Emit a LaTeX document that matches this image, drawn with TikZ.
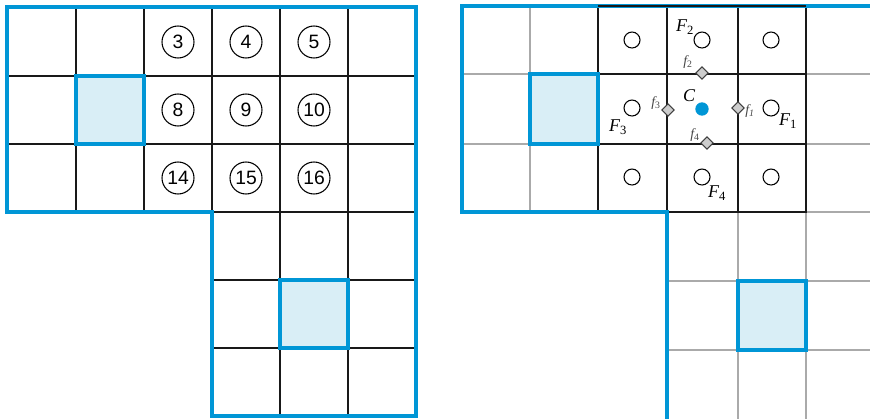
\documentclass[tikz,border=0pt]{standalone}
\usepackage{fontspec}
\setmainfont{Liberation Serif}
\newfontfamily\numfont{Liberation Sans}
\usetikzlibrary{shapes.geometric}
\definecolor{cblue}{RGB}{0,150,214}
\definecolor{lblue}{RGB}{217,238,246}
\definecolor{lgray}{RGB}{170,170,170}
\definecolor{dfill}{RGB}{205,205,205}
\definecolor{dtext}{RGB}{70,70,70}
\begin{document}
\begin{tikzpicture}[x=0.75pt,y=-0.75pt,
  blackgrid/.style={black!90,line width=1.3pt},
  graygrid/.style={lgray,line width=1.2pt},
  outline/.style={cblue,line width=2.3pt,line join=miter},
  hl/.style={fill=lblue,draw=cblue,line width=2.3pt},
  numc/.style={circle,draw,line width=0.8pt,minimum size=24pt,inner sep=0pt,font=\numfont\fontsize{14.5}{14.5}\selectfont},
  smallc/.style={circle,draw,line width=0.8pt,minimum size=12pt,inner sep=0pt,fill=white},
  cdot/.style={circle,fill=cblue,minimum size=10pt,inner sep=0pt},
  facept/.style={diamond,draw=black!75,fill=dfill,line width=0.7pt,minimum size=9.5pt,inner sep=0pt},
  Flab/.style={font=\fontsize{13.5}{13.5}\selectfont\itshape,inner sep=0pt},
  flab/.style={font=\fontsize{10.5}{10.5}\selectfont\itshape,text=dtext,inner sep=0pt}]
\useasboundingbox (0,0) rectangle (870,419);

% ---------------- left panel ----------------
\fill[lblue] (76,76) rectangle (144,144);
\fill[lblue] (280,280) rectangle (348,348);
\draw[blackgrid] (76,7) -- (76,212) (144,7) -- (144,212) (212,7) -- (212,212)
  (280,7) -- (280,416) (348,7) -- (348,416);
\draw[blackgrid] (7,76) -- (416,76) (7,144) -- (416,144) (212,212) -- (416,212)
  (212,280) -- (416,280) (212,348) -- (416,348);
\draw[outline] (7,7) -- (416,7) -- (416,416) -- (212,416) -- (212,212) -- (7,212) -- cycle;
\draw[hl] (76,76) rectangle (144,144);
\draw[hl] (280,280) rectangle (348,348);

\node[numc] (n3) at (178,42) {3};
\node[numc] (n4) at (246,42) {4};
\node[numc] (n5) at (314,42) {5};
\node[numc] (n8) at (178,110) {8};
\node[numc] (n9) at (246,110) {9};
\node[numc] (n10) at (314,110) {10};
\node[numc] (n14) at (178,178) {14};
\node[numc] (n15) at (246,178) {15};
\node[numc] (n16) at (314,178) {16};

% ---------------- right panel ----------------
\fill[lblue] (530,74) rectangle (598,144);
\fill[lblue] (738,281) rectangle (806,350);
\draw[graygrid] (530,6) -- (530,212) (738,212) -- (738,419) (806,6) -- (806,419)
  (462,74) -- (870,74) (462,144) -- (870,144) (667,212) -- (870,212)
  (667,281) -- (870,281) (667,350) -- (870,350);
\draw[blackgrid] (598,6) rectangle (806,212);
\draw[blackgrid] (667,6) -- (667,212) (738,6) -- (738,212) (598,74) -- (806,74) (598,144) -- (806,144);
\draw[outline] (870,6) -- (462,6) -- (462,212) -- (667,212) -- (667,419);
\draw[blackgrid] (598,6) -- (806,6);
\draw[hl] (530,74) rectangle (598,144);
\draw[hl] (738,281) rectangle (806,350);

\node[smallc] (c1) at (632,40) {};
\node[smallc] (c2) at (702,40) {};
\node[smallc] (c3) at (771,40) {};
\node[smallc] (c4) at (632,108) {};
\node[smallc] (c6) at (771,108) {};
\node[smallc] (c7) at (632,177) {};
\node[smallc] (c8) at (702,177) {};
\node[smallc] (c9) at (771,177) {};
\node[cdot] (cc) at (702,109) {};

\node[facept] (d1) at (738,108) {};
\node[facept] (d2) at (702,73) {};
\node[facept] (d3) at (668,110) {};
\node[facept] (d4) at (707,143) {};

\node[Flab] (F1) at (788,121) {F\textsubscript{\upshape 1}};
\node[Flab] (F2) at (685,27) {F\textsubscript{\upshape 2}};
\node[Flab] (F3) at (618,127) {F\textsubscript{\upshape 3}};
\node[Flab] (F4) at (717,193) {F\textsubscript{\upshape 4}};
\node[Flab] (C) at (689,96) {C};
\node[flab] (f1) at (750,111) {f\textsubscript{1}};
\node[flab] (f2) at (688,62) {f\textsubscript{\upshape 2}};
\node[flab] (f3) at (656,103) {f\textsubscript{\upshape 3}};
\node[flab] (f4) at (695,135) {f\textsubscript{\upshape 4}};
\end{tikzpicture}
\end{document}
